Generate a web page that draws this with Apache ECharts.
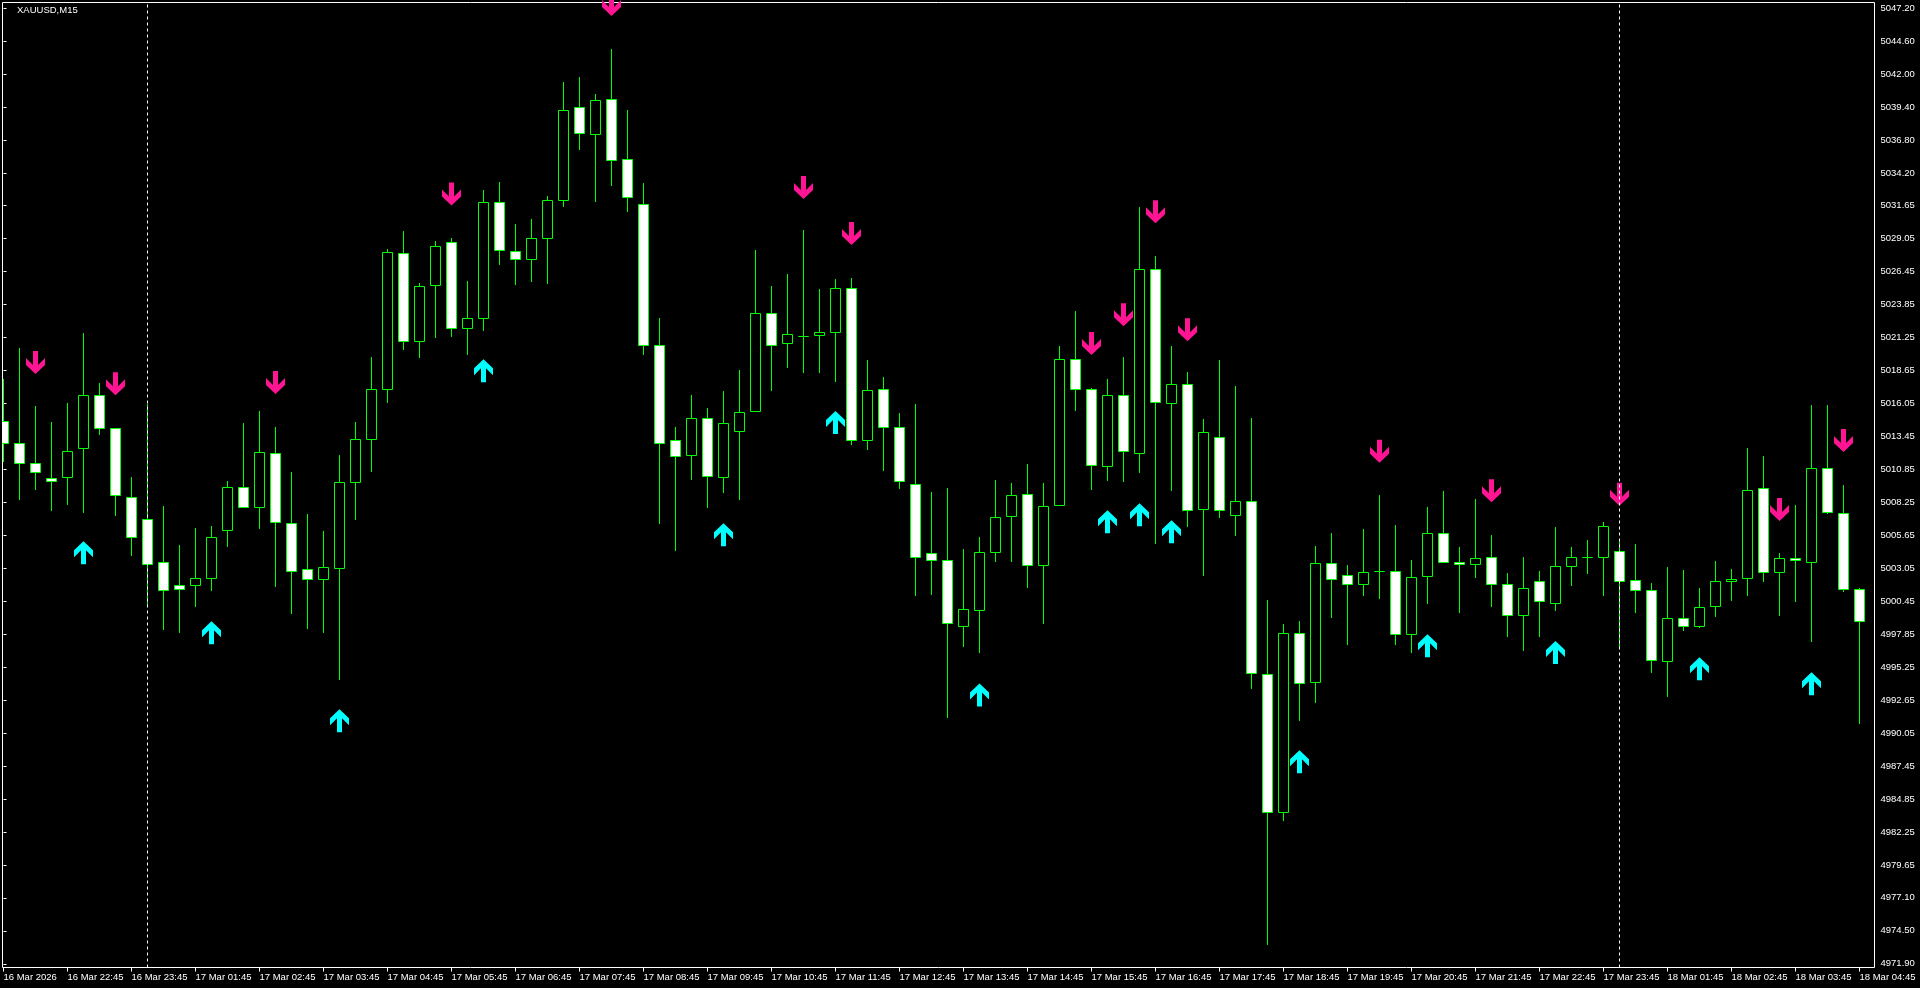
<!DOCTYPE html>
<html><head><meta charset="utf-8">
<script src="https://cdn.jsdelivr.net/npm/echarts@6/dist/echarts.min.js"></script>
<style>html,body{margin:0;padding:0;background:#000;overflow:hidden}#chart{width:1920px;height:988px}</style>
</head><body><div id="chart"></div>
<script>
const symbolTitle = 'XAUUSD,M15';

const opens = [5014.65,5012.92,5011.34,5010.16,5010.21,5012.49,5016.70,5014.10,5008.66,5006.93,
5003.54,5001.73,5001.70,5002.25,5006.06,5009.45,5007.87,5012.13,5006.61,5002.99,
5002.20,5003.07,5009.84,5013.20,5017.14,5027.89,5020.95,5025.34,5028.75,5021.98,
5022.73,5031.89,5028.05,5027.40,5029.05,5032.06,5039.40,5037.25,5040.03,5035.30,
5031.75,5020.64,5013.16,5011.95,5014.88,5010.21,5013.85,5015.42,5023.18,5020.78,
5021.31,5021.43,5021.66,5025.12,5013.11,5017.17,5014.17,5009.68,5004.26,5003.70,
4998.46,4999.76,5004.33,5007.13,5008.90,5003.27,5008.03,5019.54,5017.17,5011.07,
5016.70,5012.10,5026.63,5016.04,5017.57,5007.72,5013.37,5007.21,5008.35,4994.70,
4983.82,4997.95,4994.06,5003.44,5002.52,5001.78,5002.82,5002.82,4997.86,5002.43,
5005.82,5003.54,5003.38,5003.93,5001.81,4999.36,5002.04,5000.31,5003.22,5003.93,
5003.93,5004.41,5002.12,5001.33,4995.74,4999.13,4998.46,5000.04,5002.04,5002.25,
5009.37,5002.72,5003.85,5003.51,5010.95,5007.40,5001.41];
const highs = [5017.98,5020.40,5015.78,5014.52,5016.09,5021.53,5017.59,5014.10,5010.26,5015.99,
5007.90,5004.90,5006.22,5006.38,5009.87,5014.44,5015.46,5014.20,5010.58,5007.27,
5005.93,5011.99,5014.59,5019.64,5028.15,5029.57,5025.47,5028.78,5029.09,5025.63,
5032.87,5033.44,5030.12,5030.52,5032.38,5041.37,5041.77,5040.43,5043.98,5039.11,
5033.36,5022.78,5014.14,5016.71,5015.63,5016.97,5018.68,5028.07,5025.30,5026.18,
5029.65,5025.01,5025.80,5025.94,5019.47,5018.07,5015.30,5016.01,5009.06,5009.33,
5004.52,5005.53,5010.02,5009.71,5011.21,5009.71,5020.58,5023.34,5017.25,5017.96,
5019.64,5031.46,5027.65,5020.58,5018.46,5014.83,5019.47,5017.42,5014.90,5000.56,
4998.60,4998.84,5004.82,5005.77,5003.32,5006.16,5008.83,5006.47,5003.65,5007.83,
5009.08,5004.74,5008.45,5005.67,5002.62,5003.88,5002.83,5006.30,5004.74,5005.22,
5006.64,5005.35,5004.98,5001.88,5003.09,5002.93,5001.44,5003.64,5003.01,5012.47,
5011.84,5004.27,5008.03,5015.93,5015.93,5009.63,5001.49];
const lows = [5011.47,5008.45,5009.24,5007.66,5008.13,5007.50,5013.57,5007.19,5004.11,5000.23,
4998.28,4997.99,5000.04,5001.30,5004.77,5007.87,5006.19,5001.62,4999.49,4998.31,
4997.99,4994.29,5006.90,5010.68,5016.12,5020.29,5019.66,5021.24,5021.32,5019.90,
5021.84,5026.97,5025.42,5025.65,5025.51,5031.58,5036.04,5031.95,5033.21,5031.17,
5019.89,5006.60,5004.45,5010.04,5007.83,5009.01,5008.48,5015.42,5017.05,5018.89,
5018.48,5018.48,5017.75,5012.85,5012.39,5010.81,5009.33,5000.91,5000.99,4991.29,
4996.88,4996.42,5003.59,5003.59,5001.57,4998.70,5008.03,5015.49,5009.24,5009.95,
5009.89,5010.58,5005.04,5009.18,5006.34,5002.48,5007.05,5005.67,4993.59,4973.43,
4983.18,4991.06,4992.52,4999.15,4997.06,5000.95,5000.65,4997.06,4996.42,5000.28,
5003.51,4999.57,5002.33,5000.04,4997.68,4996.57,4997.68,4999.73,5001.70,5002.64,
5000.91,4996.89,4999.57,4994.84,4992.95,4998.15,4998.39,4999.23,5000.49,5000.91,
5002.01,4999.33,5000.43,4997.28,5007.37,5001.22,4990.82];
const closes = [5012.92,5011.31,5010.60,5009.89,5012.29,5016.70,5014.10,5008.79,5005.48,5003.38,
5001.33,5001.41,5002.28,5005.51,5009.45,5007.87,5012.21,5006.69,5002.83,5002.20,
5003.14,5009.84,5013.23,5017.17,5027.97,5020.95,5025.29,5028.44,5021.98,5022.77,
5031.89,5028.11,5027.42,5029.05,5032.06,5039.14,5037.30,5039.94,5035.22,5032.27,
5020.64,5012.90,5011.87,5014.88,5010.29,5014.48,5015.36,5023.18,5020.61,5021.51,
5021.31,5021.66,5025.12,5013.11,5017.11,5014.14,5009.91,5003.91,5003.70,4998.75,
4999.83,5004.33,5007.08,5008.82,5003.27,5007.95,5019.54,5017.17,5011.18,5016.70,
5012.25,5026.63,5016.12,5017.57,5007.64,5013.78,5007.64,5008.35,4994.79,4983.82,
4997.95,4994.00,5003.44,5002.18,5001.81,5002.74,5002.82,4997.86,5002.33,5005.83,
5003.51,5003.38,5003.85,5001.81,4999.36,5001.49,5000.47,5003.22,5003.93,5003.93,
5006.38,5002.04,5001.33,4995.82,4999.13,4998.46,4999.99,5002.04,5002.20,5009.21,
5002.72,5003.85,5003.67,5010.95,5007.45,5001.41,4998.89];

const downArrowBars = [2,7,17,28,38,50,53,68,70,72,74,86,93,101,111,115];
const downArrowPrices = [5019.28,5017.60,5017.71,5032.56,5047.49,5033.08,5029.44,5020.78,5023.05,5031.17,5021.87,5012.28,5009.18,5008.90,5007.70,5013.14];
const upArrowBars = [5,13,21,30,45,52,61,69,71,73,81,89,97,106,113];
const upArrowPrices = [5004.29,4997.99,4991.06,5018.64,5005.71,5014.55,4993.09,5006.74,5007.29,5005.95,4987.83,4996.97,4996.43,4995.15,4993.97];

const separatorBars = [9, 101];

const xTickBars = [0,4,8,12,16,20,24,28,32,36,40,44,48,52,56,60,64,68,72,76,80,84,88,92,96,100,104,108,112,116];
const xTickLabels = ['16 Mar 2026','16 Mar 22:45','16 Mar 23:45','17 Mar 01:45','17 Mar 02:45','17 Mar 03:45',
'17 Mar 04:45','17 Mar 05:45','17 Mar 06:45','17 Mar 07:45','17 Mar 08:45','17 Mar 09:45','17 Mar 10:45',
'17 Mar 11:45','17 Mar 12:45','17 Mar 13:45','17 Mar 14:45','17 Mar 15:45','17 Mar 16:45','17 Mar 17:45',
'17 Mar 18:45','17 Mar 19:45','17 Mar 20:45','17 Mar 21:45','17 Mar 22:45','17 Mar 23:45','18 Mar 01:45',
'18 Mar 02:45','18 Mar 03:45','18 Mar 04:45'];
const yTickValues = [4971.90,4974.50,4977.10,4979.65,4982.25,4984.85,4987.45,4990.05,4992.65,4995.25,
4997.85,5000.45,5003.05,5005.65,5008.25,5010.85,5013.45,5016.05,5018.65,5021.25,5023.85,5026.45,
5029.05,5031.65,5034.20,5036.80,5039.40,5042.00,5044.60,5047.20];

const FONT = "'Liberation Sans', Arial, sans-serif";
const GREEN = '#00FF00';

const candleData = opens.map((o, i) => [i, o, highs[i], lows[i], closes[i]]);
const downData = downArrowBars.map((b, i) => [b, downArrowPrices[i]]);
const upData = upArrowBars.map((b, i) => [b, upArrowPrices[i]]);

const DOWN_PATH = 'path://M7,0 L12,0 L12,14 L19,7 L19,14 L9.5,23 L0,14 L0,7 L7,14 Z';
const UP_PATH = 'path://M7,23 L12,23 L12,9 L19,16 L19,9 L9.5,0 L0,9 L0,16 L7,9 Z';

function renderCandle(params, api) {
  const i = api.value(0), o = api.value(1), h = api.value(2), l = api.value(3), c = api.value(4);
  const pO = api.coord([i, o]), pC = api.coord([i, c]), pH = api.coord([i, h]), pL = api.coord([i, l]);
  const cx = Math.floor(pO[0] + 0.001) + 0.5;
  const snap = y => Math.floor(y) + 0.5;
  const yTop = snap(Math.min(pO[1], pC[1]));
  const yBot = snap(Math.max(pO[1], pC[1]));
  const bull = c > o;
  return {
    type: 'group',
    children: [
      { type: 'line', shape: { x1: cx, y1: Math.floor(pH[1]), x2: cx, y2: Math.floor(pL[1]) + 1 },
        style: { stroke: GREEN, lineWidth: 1 } },
      { type: 'rect', shape: { x: cx - 5, y: yTop, width: 10, height: yBot - yTop },
        style: { fill: bull ? '#000000' : '#FFFFFF', stroke: GREEN, lineWidth: 1 } }
    ]
  };
}

const chart = echarts.init(document.getElementById('chart'), null, { renderer: 'canvas', width: 1920, height: 988 });
chart.setOption({
  animation: false,
  backgroundColor: '#000000',
  title: {
    text: symbolTitle, left: 17, top: 5, padding: 0,
    textStyle: { color: '#FFFFFF', fontSize: 9.5, fontWeight: 'normal', fontFamily: FONT }
  },
  grid: {
    left: 2.5, top: 2.5, right: 45.5, bottom: 20.5,
    show: true, borderColor: '#FFFFFF', borderWidth: 1, backgroundColor: 'transparent',
    containLabel: false, outerBoundsMode: 'none'
  },
  xAxis: {
    type: 'value', min: -0.0625, max: 116.9375,
    axisLine: { show: false },
    splitLine: { show: false },
    axisTick: { show: true, customValues: xTickBars, length: 4, lineStyle: { color: '#FFFFFF', width: 1 } },
    axisLabel: {
      show: true, customValues: xTickBars, align: 'left', margin: 4,
      color: '#FFFFFF', fontSize: 9.5, fontFamily: FONT, lineHeight: 11,
      formatter: v => xTickLabels[xTickBars.indexOf(Math.round(v))] || ''
    }
  },
  yAxis: {
    type: 'value', position: 'right', min: 4971.61, max: 5047.65, scale: true,
    axisLine: { show: false },
    splitLine: { show: false },
    axisTick: { show: true, customValues: yTickValues, length: 3, lineStyle: { color: '#FFFFFF', width: 1 } },
    axisLabel: {
      show: true, customValues: yTickValues, margin: 6,
      color: '#FFFFFF', fontSize: 9.5, fontFamily: FONT,
      formatter: v => Number(v).toFixed(2)
    }
  },
  series: [
    {
      type: 'line', data: [], z: 1, silent: true,
      markLine: {
        silent: true, symbol: ['none', 'none'], animation: false,
        label: { show: false },
        lineStyle: { color: '#FFFFFF', width: 1, type: [3, 3] },
        data: separatorBars.map(b => ({ xAxis: b }))
      }
    },
    {
      type: 'custom', z: 3, clip: true, silent: true,
      renderItem: renderCandle,
      encode: { x: 0, y: [1, 2, 3, 4] },
      data: candleData
    },
    {
      type: 'scatter', z: 4, silent: true,
      symbol: DOWN_PATH, symbolSize: [19, 23],
      itemStyle: { color: '#FF1493', opacity: 1 },
      data: downData
    },
    {
      type: 'scatter', z: 4, silent: true,
      symbol: UP_PATH, symbolSize: [19, 23],
      itemStyle: { color: '#00FFFF', opacity: 1 },
      data: upData
    }
  ]
});
</script>
</body></html>
